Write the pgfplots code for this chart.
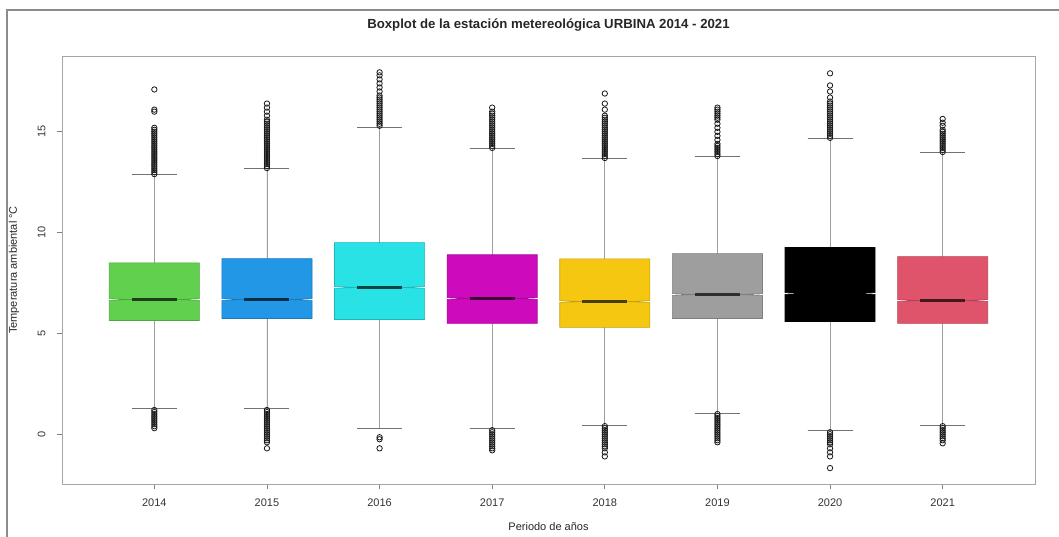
\documentclass[border=0pt]{standalone}
\usepackage{fontspec}
\setmainfont{Liberation Sans}
\usepackage{pgfplots}
\pgfplotsset{compat=1.18}
\usepgfplotslibrary{statistics}
\definecolor{cA}{HTML}{61D04F}
\definecolor{cB}{HTML}{2297E6}
\definecolor{cC}{HTML}{28E2E5}
\definecolor{cD}{HTML}{CD0BBC}
\definecolor{cE}{HTML}{F5C710}
\definecolor{cF}{HTML}{9E9E9E}
\definecolor{cG}{HTML}{000000}
\definecolor{cH}{HTML}{DF536B}
\pgfplotsset{
  rbox/.style={
    fill=#1, draw=#1!80!black, line width=0.6pt,
    mark=o, mark size=2.7pt, mark options={draw=black!90, fill=none, line width=0.8pt},
    boxplot/every median/.style={draw=#1!30!black, line width=2.6pt},
  },
}
\begin{document}
\begin{tikzpicture}
\draw[black!45, line width=1.2pt] (7pt,-10pt) rectangle (1080pt,-560pt);
\begin{axis}[
  at={(62pt,-484pt)}, anchor=south west,
  scale only axis, width=973pt, height=428pt,
  xmin=0.18, xmax=8.82, ymin=-2.47, ymax=18.76,
  xtick={1,2,3,4,5,6,7,8},
  xticklabels={2014,2015,2016,2017,2018,2019,2020,2021},
  ytick={0,5,10,15},
  /pgf/number format/assume math mode=true,
  tick pos=left, tick align=outside, major tick length=5pt,
  axis line style={black!35, line width=0.9pt},
  tick style={black!50, line width=0.8pt},
  tick label style={font=\fontsize{11}{13}\selectfont, text=black!80},
  yticklabel style={rotate=90, anchor=south, yshift=8pt},
  xticklabel style={yshift=-6pt},
  title={Boxplot de la estación metereológica URBINA 2014 - 2021},
  title style={font=\fontsize{13.2}{15}\selectfont\bfseries, text=black!85, at={(axis description cs:0.5,1.0584)}, anchor=center},
  xlabel={Periodo de años},
  ylabel={Temperatura ambiental °C},
  label style={font=\fontsize{11}{13}\selectfont, text=black!85},
  xlabel style={at={(axis description cs:0.5,-0.1005)}, anchor=center},
  ylabel style={at={(axis description cs:-0.0493,0.5)}, anchor=center},
  boxplot/draw direction=y,
  boxplot/box extend=0.8,
  boxplot/whisker extend=0.4,
  boxplot/every whisker/.style={draw=black!38, line width=0.7pt},
  boxplot/draw/box/.code={%
    \draw[/pgfplots/boxplot/every box/.try]
      (boxplot box cs:\pgfplotsboxplotvalue{lower quartile},0) --
      (boxplot box cs:\pgfplotsboxplotvalue{lower quartile},1) --
      ([yshift=-0.9pt]boxplot box cs:\pgfplotsboxplotvalue{median},1) --
      (boxplot box cs:\pgfplotsboxplotvalue{median},0.75) --
      ([yshift=0.9pt]boxplot box cs:\pgfplotsboxplotvalue{median},1) --
      (boxplot box cs:\pgfplotsboxplotvalue{upper quartile},1) --
      (boxplot box cs:\pgfplotsboxplotvalue{upper quartile},0) --
      ([yshift=0.9pt]boxplot box cs:\pgfplotsboxplotvalue{median},0) --
      (boxplot box cs:\pgfplotsboxplotvalue{median},0.25) --
      ([yshift=-0.9pt]boxplot box cs:\pgfplotsboxplotvalue{median},0) -- cycle;
  },
  boxplot/draw/median/.code={%
    \draw[/pgfplots/boxplot/every median/.try]
      (boxplot box cs:\pgfplotsboxplotvalue{median},0.25) --
      (boxplot box cs:\pgfplotsboxplotvalue{median},0.75);
  },
  boxplot/draw/upper whisker/.code={%
    \draw[/pgfplots/boxplot/every whisker/.try]
      (boxplot cs:\pgfplotsboxplotvalue{upper quartile}) --
      (boxplot cs:\pgfplotsboxplotvalue{upper whisker});
    \draw[draw=black!55, line width=0.9pt]
      (boxplot whisker cs:\pgfplotsboxplotvalue{upper whisker},0) --
      (boxplot whisker cs:\pgfplotsboxplotvalue{upper whisker},1);
  },
  boxplot/draw/lower whisker/.code={%
    \draw[/pgfplots/boxplot/every whisker/.try]
      (boxplot cs:\pgfplotsboxplotvalue{lower quartile}) --
      (boxplot cs:\pgfplotsboxplotvalue{lower whisker});
    \draw[draw=black!55, line width=0.9pt]
      (boxplot whisker cs:\pgfplotsboxplotvalue{lower whisker},0) --
      (boxplot whisker cs:\pgfplotsboxplotvalue{lower whisker},1);
  },
]
% 2014
\addplot[rbox=cA, boxplot prepared={draw position=1, median=6.68, lower quartile=5.64, upper quartile=8.5, lower whisker=1.29, upper whisker=12.87}]
  table[row sep=\\, y index=0]{v\\ 12.9\\ 13.0\\ 13.1\\ 13.2\\ 13.3\\ 13.4\\ 13.5\\ 13.6\\ 13.7\\ 13.8\\ 13.9\\ 14.0\\ 14.1\\ 14.2\\ 14.3\\ 14.4\\ 14.5\\ 14.6\\ 14.7\\ 14.8\\ 14.9\\ 15.0\\ 15.1\\ 15.2\\ 16.0\\ 16.1\\ 17.1\\ 1.2\\ 1.1\\ 1.0\\ 0.9\\ 0.8\\ 0.7\\ 0.6\\ 0.5\\ 0.4\\ 0.3\\};
% 2015
\addplot[rbox=cB, boxplot prepared={draw position=2, median=6.68, lower quartile=5.74, upper quartile=8.71, lower whisker=1.29, upper whisker=13.17}]
  table[row sep=\\, y index=0]{v\\ 13.2\\ 13.3\\ 13.4\\ 13.5\\ 13.6\\ 13.7\\ 13.8\\ 13.9\\ 14.0\\ 14.1\\ 14.2\\ 14.3\\ 14.4\\ 14.5\\ 14.6\\ 14.7\\ 14.8\\ 14.9\\ 15.0\\ 15.1\\ 15.2\\ 15.3\\ 15.4\\ 15.5\\ 15.6\\ 15.8\\ 16.0\\ 16.2\\ 16.4\\ 1.2\\ 1.1\\ 1.0\\ 0.9\\ 0.8\\ 0.7\\ 0.6\\ 0.5\\ 0.4\\ 0.3\\ 0.2\\ 0.1\\ 0.0\\ -0.1\\ -0.2\\ -0.3\\ -0.4\\ -0.7\\};
% 2016
\addplot[rbox=cC, boxplot prepared={draw position=3, median=7.28, lower quartile=5.69, upper quartile=9.5, lower whisker=0.3, upper whisker=15.2}]
  table[row sep=\\, y index=0]{v\\ 15.3\\ 15.4\\ 15.5\\ 15.6\\ 15.7\\ 15.8\\ 15.9\\ 16.0\\ 16.1\\ 16.2\\ 16.3\\ 16.4\\ 16.5\\ 16.6\\ 16.7\\ 16.8\\ 17.0\\ 17.2\\ 17.4\\ 17.6\\ 17.8\\ 17.95\\ -0.15\\ -0.25\\ -0.7\\};
% 2017
\addplot[rbox=cD, boxplot prepared={draw position=4, median=6.73, lower quartile=5.5, upper quartile=8.9, lower whisker=0.3, upper whisker=14.16}]
  table[row sep=\\, y index=0]{v\\ 14.2\\ 14.3\\ 14.4\\ 14.5\\ 14.6\\ 14.7\\ 14.8\\ 14.9\\ 15.0\\ 15.1\\ 15.2\\ 15.3\\ 15.4\\ 15.5\\ 15.6\\ 15.7\\ 15.8\\ 15.9\\ 16.0\\ 16.2\\ 0.2\\ 0.1\\ 0.0\\ -0.1\\ -0.2\\ -0.3\\ -0.4\\ -0.5\\ -0.6\\ -0.7\\ -0.8\\};
% 2018
\addplot[rbox=cE, boxplot prepared={draw position=5, median=6.58, lower quartile=5.3, upper quartile=8.7, lower whisker=0.45, upper whisker=13.66}]
  table[row sep=\\, y index=0]{v\\ 13.7\\ 13.8\\ 13.9\\ 14.0\\ 14.1\\ 14.2\\ 14.3\\ 14.4\\ 14.5\\ 14.6\\ 14.7\\ 14.8\\ 14.9\\ 15.0\\ 15.1\\ 15.2\\ 15.3\\ 15.4\\ 15.5\\ 15.6\\ 15.7\\ 15.8\\ 16.1\\ 16.4\\ 16.9\\ 0.4\\ 0.3\\ 0.2\\ 0.1\\ 0.0\\ -0.1\\ -0.2\\ -0.3\\ -0.4\\ -0.5\\ -0.6\\ -0.7\\ -0.9\\ -1.1\\};
% 2019
\addplot[rbox=cF, boxplot prepared={draw position=6, median=6.93, lower quartile=5.74, upper quartile=8.96, lower whisker=1.04, upper whisker=13.76}]
  table[row sep=\\, y index=0]{v\\ 13.8\\ 13.9\\ 14.0\\ 14.1\\ 14.2\\ 14.3\\ 14.4\\ 14.6\\ 14.8\\ 15.0\\ 15.2\\ 15.4\\ 15.6\\ 15.7\\ 15.8\\ 15.9\\ 16.0\\ 16.1\\ 16.2\\ 1.0\\ 0.9\\ 0.8\\ 0.7\\ 0.6\\ 0.5\\ 0.4\\ 0.3\\ 0.2\\ 0.1\\ 0.0\\ -0.1\\ -0.2\\ -0.3\\ -0.4\\};
% 2020
\addplot[rbox=cG, boxplot prepared={draw position=7, median=6.98, lower quartile=5.59, upper quartile=9.26, lower whisker=0.2, upper whisker=14.65},
  draw=black, boxplot/every median/.style={draw=black, line width=2.6pt}]
  table[row sep=\\, y index=0]{v\\ 14.7\\ 14.8\\ 14.9\\ 15.0\\ 15.1\\ 15.2\\ 15.3\\ 15.4\\ 15.5\\ 15.6\\ 15.7\\ 15.8\\ 15.9\\ 16.0\\ 16.1\\ 16.2\\ 16.3\\ 16.4\\ 16.5\\ 16.7\\ 17.0\\ 17.3\\ 17.9\\ 0.1\\ 0.0\\ -0.1\\ -0.2\\ -0.3\\ -0.4\\ -0.5\\ -0.7\\ -0.9\\ -1.1\\ -1.68\\};
% 2021
\addplot[rbox=cH, boxplot prepared={draw position=8, median=6.63, lower quartile=5.5, upper quartile=8.81, lower whisker=0.45, upper whisker=13.96}]
  table[row sep=\\, y index=0]{v\\ 14.0\\ 14.1\\ 14.2\\ 14.3\\ 14.4\\ 14.5\\ 14.6\\ 14.7\\ 14.8\\ 14.9\\ 15.0\\ 15.1\\ 15.3\\ 15.45\\ 15.64\\ 0.4\\ 0.3\\ 0.2\\ 0.1\\ 0.0\\ -0.1\\ -0.2\\ -0.3\\ -0.45\\};
\end{axis}
\pgfresetboundingbox
\path[use as bounding box] (0pt,0pt) rectangle (1059pt,-536pt);
\end{tikzpicture}
\end{document}
